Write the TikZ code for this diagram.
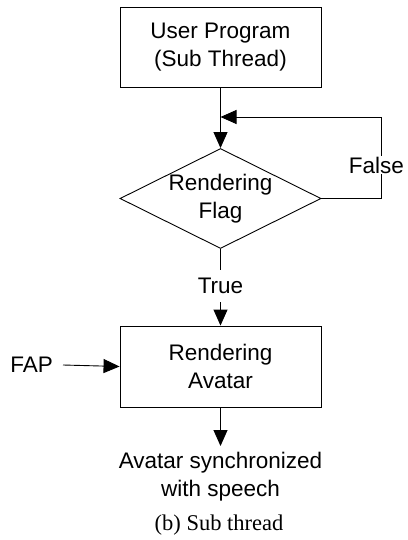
\documentclass[tikz,border=0pt]{standalone}
\usepackage{fontspec}
\setmainfont{Liberation Sans}
\newfontfamily\capfont{Liberation Serif}
\usetikzlibrary{arrows.meta,shapes.geometric}
\tikzset{
  box/.style={draw, line width=0.9pt, minimum width=201pt, minimum height=80pt, align=center, inner sep=0pt},
  dia/.style={draw, line width=0.9pt, diamond, shape aspect=2, minimum width=201pt, minimum height=100pt, inner sep=0pt},
  lbl/.style={align=center, inner sep=0pt},
  conn/.style={line width=0.9pt},
  arr/.style={line width=0.9pt, -{Triangle[length=16pt, width=14pt]}},
}
\begin{document}
\begin{tikzpicture}[x=1pt, y=-1pt, font=\fontsize{22.5}{27.5}\selectfont]
\useasboundingbox (0,0) rectangle (407,540);
\node[box] (user) at (220.5,47) {User Program\\(Sub Thread)};
\node[dia] (flag) at (220.5,198.5) {};
\node[lbl] (flagtxt) at (220.5,198.5) {Rendering\\Flag};
\node[box, minimum height=81pt] (avatar) at (220.5,366.5) {Rendering\\Avatar};
\node[lbl, inner sep=8pt] (true) at (220.5,286) {True};
\node[lbl, anchor=east, inner xsep=10pt] (fap) at (63,365) {FAP};
\node[lbl, anchor=north, inner sep=6pt] (out) at (220.5,446) {Avatar synchronized\\with speech};
\node[lbl, anchor=base, font=\capfont\fontsize{22.5}{27}\selectfont] (cap) at (219,530) {(b) Sub thread};
\coordinate (fb) at (381,117);
\coordinate (join) at (220.5,117);
\draw[arr] (user.south) -- (flag.north);
\draw[arr] (flag.east) -| (fb) -- (join);
\node[lbl, anchor=east, fill=white, inner sep=1pt] (false) at (405,165) {False};
\draw[conn] (flag.south) -- (true.north);
\draw[arr] (true.south) -- (avatar.north);
\draw[arr] (fap.east) -- (avatar.west);
\draw[arr] (avatar.south) -- (out.north);
\end{tikzpicture}
\end{document}
